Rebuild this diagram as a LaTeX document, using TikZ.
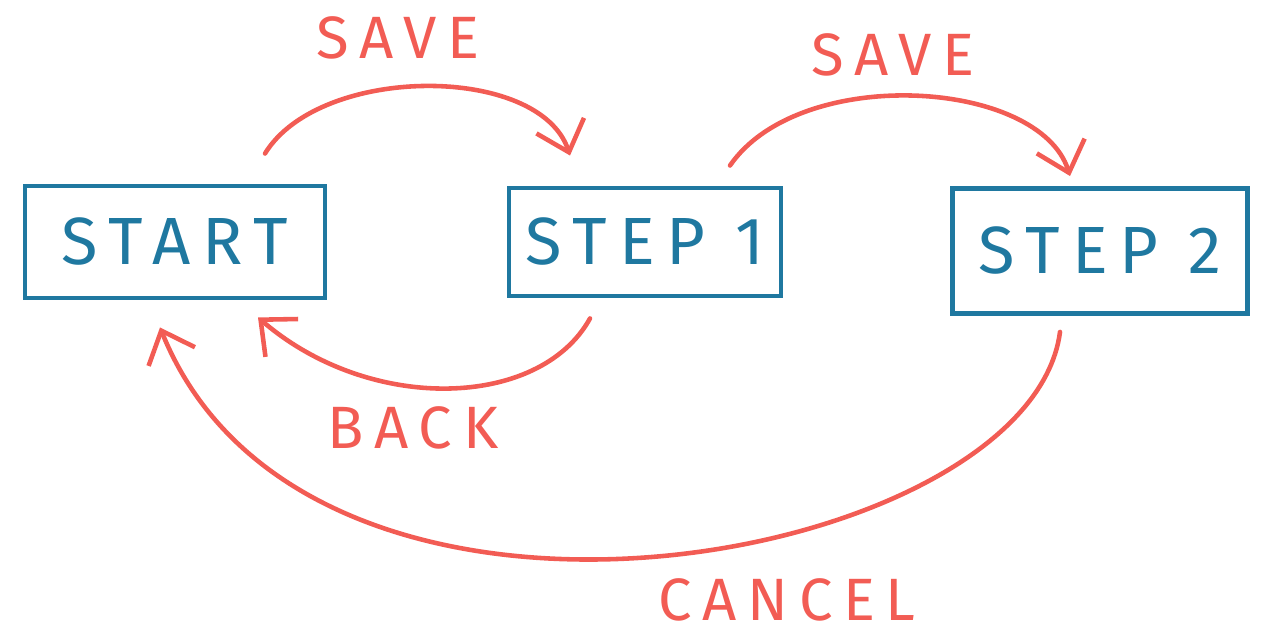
\documentclass[tikz,border=0pt]{standalone}
\usepackage{fontspec}
\setmainfont{Fira Sans}[LetterSpace=18]
\usetikzlibrary{arrows.meta}
\definecolor{boxblue}{HTML}{1F78A0}
\definecolor{penred}{HTML}{F25C54}

\begin{document}
\begin{tikzpicture}[box/.style={draw=boxblue,text=boxblue,line width=1.4pt,font=\fontsize{19}{22}\selectfont},
lbl/.style={text=penred,font=\fontsize{17}{20}\selectfont},
arr/.style={draw=penred,line width=1.3pt,line cap=round,line join=round,-{Straight Barb[length=2.8mm,width=5mm]}}]
\useasboundingbox (0,0) rectangle (12.73,6.39);
\node[box,minimum width=3cm,minimum height=1.12cm] (0) at (1.75,3.97) {START};
\node[box,minimum width=2.72cm,minimum height=1.08cm] (1) at (6.45,3.97) {STEP 1};
\node[box,minimum width=2.95cm,minimum height=1.25cm] (2) at (11,3.88) {STEP 2};
\node[lbl] (3) at (3.98,6.01) {SAVE};
\node[lbl] (4) at (8.93,5.84) {SAVE};
\node[lbl] (5) at (4.13,2.11) {BACK};
\node[lbl] (6) at (7.87,0.39) {CANCEL};
\draw[arr] ([xshift=9mm,yshift=3mm]0.north) .. controls (3.2,5.75) and (5.4,5.75) .. ([xshift=-7.5mm,yshift=3mm]1.north);
\draw[arr] ([xshift=8.5mm,yshift=2mm]1.north) .. controls (8,5.75) and (10.4,5.6) .. ([xshift=-3mm,yshift=1mm]2.north);
\draw[arr] ([xshift=-5.5mm,yshift=-2mm]1.south) .. controls (5.4,2.3) and (3.7,2.25) .. ([xshift=8.3mm,yshift=-1.7mm]0.south);
\draw[arr] ([xshift=-4mm,yshift=-1.6mm]2.south) .. controls (10.3,0.75) and (3.1,-0.6) .. ([xshift=-1.5mm,yshift=-2.7mm]0.south);
\end{tikzpicture}
\end{document}
